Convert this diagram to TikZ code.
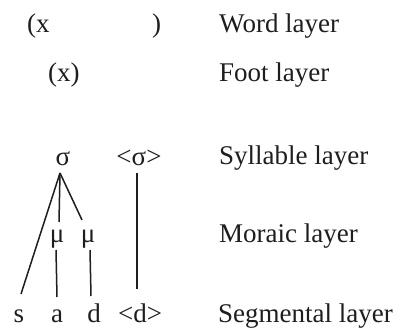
\documentclass[tikz,border=0pt]{standalone}
\usepackage{fontspec}
\setmainfont{Liberation Serif}
\usetikzlibrary{calc}
\definecolor{ink}{HTML}{1E1E1E}
\tikzset{
  txt/.style={font=\fontsize{27bp}{30bp}\selectfont, inner sep=0pt, text=ink, anchor=base},
  lbl/.style={txt, anchor=base west},
  link/.style={draw=ink, line width=1.5bp}
}
\begin{document}
\begin{tikzpicture}[x=1bp,y=-1bp]
\path[fill=white] (0,0) rectangle (408,331);
\useasboundingbox (0,0) rectangle (408,331);
% left column
\node[txt, anchor=base west] (wl) at (27,32) {(x};
\node[txt, anchor=base west] (wr) at (152,32) {)};
\node[txt, anchor=base west] (ft) at (48,81) {(x)};
\node[txt] (sig) at (63,165) {σ};
\node[txt] (sig2) at (139,165) {<σ>};
\node[txt] (mu1) at (57,242) {μ};
\node[txt] (mu2) at (88,242) {μ};
\node[txt] (s) at (19,322) {s};
\node[txt] (a) at (57,322) {a};
\node[txt] (d) at (94,322) {d};
\node[txt] (d2) at (140,322) {<d>};
% labels
\node[lbl] (lw) at (219,32) {Word layer};
\node[lbl] (lf) at (219,81) {Foot layer};
\node[lbl] (ls) at (219,164) {Syllable layer};
\node[lbl] (lm) at (219,242) {Moraic layer};
\node[lbl] (lg) at (218,322) {Segmental layer};
% connectors
\draw[link] ($(sig.base)+(-3,8)$) -- ($(s.base)+(2,-28)$);
\draw[link] ($(sig.base)+(-3,8)$) -- ($(mu1.base)+(2,-20)$);
\draw[link] ($(sig.base)+(-3,8)$) -- ($(mu2.base)+(-6,-22)$);
\draw[link] ($(mu1.base)+(-1,8)$) -- ($(a.base)+(0,-25)$);
\draw[link] ($(mu2.base)+(2,8)$) -- ($(d.base)+(-3,-26)$);
\draw[link] ($(sig2.base)+(-2,8)$) -- ($(d2.base)+(-3,-33)$);
\end{tikzpicture}
\end{document}
